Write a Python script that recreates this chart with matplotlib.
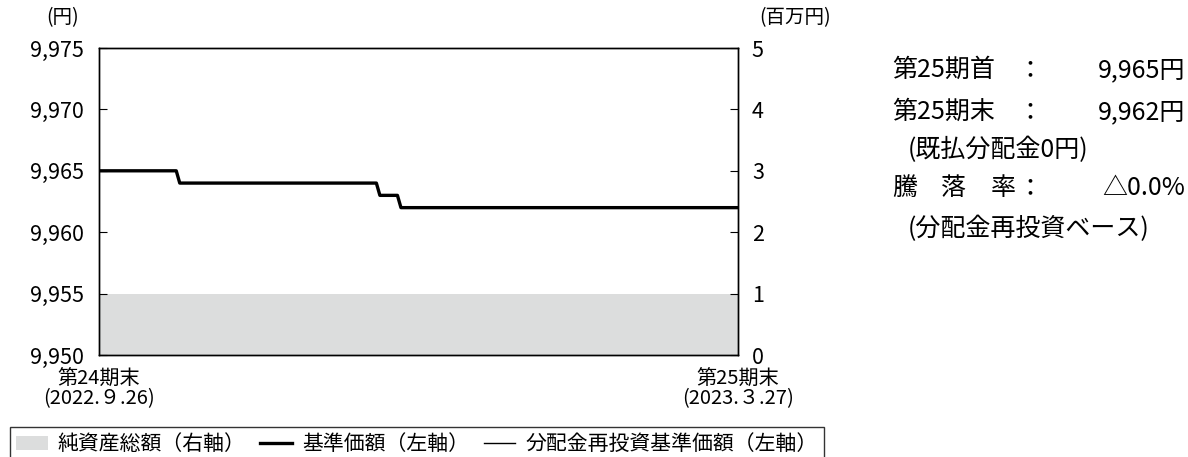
import matplotlib
matplotlib.use('Agg')
import matplotlib.pyplot as plt
from matplotlib.patches import Patch
from matplotlib.lines import Line2D
import pandas as pd

plt.rcParams['font.family'] = ['Noto Sans CJK JP', 'DejaVu Sans']

# 基準価額の推移 (変化点のみ)
dates = pd.to_datetime(['2022-09-26', '2022-10-18', '2022-10-19', '2022-12-14',
                        '2022-12-15', '2022-12-20', '2022-12-21', '2023-03-27'])
nav = [9965, 9965, 9964, 9964, 9963, 9963, 9962, 9962]
nav_reinvest = [9965, 9965, 9964, 9964, 9963, 9963, 9962, 9962]
net_assets = [1.0, 1.0, 1.0, 1.0, 1.0, 1.0, 1.0, 1.0]  # 百万円

left_ticks = [9950, 9955, 9960, 9965, 9970, 9975]
right_ticks = [0, 1, 2, 3, 4, 5]
x_labels = ['第24期末\n(2022.９.26)', '第25期末\n(2023.３.27)']

fig = plt.figure(figsize=(11.88, 4.57), dpi=100)
ax = fig.add_axes([99 / 1188, 1 - 355 / 457, (738 - 99) / 1188, (355 - 48) / 457])
ax2 = ax.twinx()

ax2.fill_between(dates, 0, net_assets, color='#dcdddd', lw=0)
ax2.set_ylim(0, 5)
ax2.set_yticks(right_ticks)
ax2.tick_params(axis='y', direction='in', length=6, labelsize=15.5, pad=10)

ax.set_zorder(ax2.get_zorder() + 1)
ax.patch.set_visible(False)
ax.plot(dates, nav_reinvest, color='black', lw=1.0)
ax.plot(dates, nav, color='black', lw=2.4)
ax.set_ylim(9950, 9975)
ax.set_yticks(left_ticks)
ax.set_yticklabels([f'{v:,}' for v in left_ticks])
ax.tick_params(axis='y', direction='in', length=6, labelsize=15.5, pad=11)
ax.set_xlim(dates[0], dates[-1])
ax.set_xticks([dates[0], dates[-1]])
ax.set_xticklabels(x_labels, fontsize=14.5, linespacing=0.9)
ax.tick_params(axis='x', length=0, pad=10)

for a in (ax, ax2):
    for s in a.spines.values():
        s.set_linewidth(1.0)

fig.text(63 / 1188, 1 - 18 / 457, '(円)', ha='center', va='center', fontsize=14)
fig.text(795 / 1188, 1 - 18 / 457, '(百万円)', ha='center', va='center', fontsize=14)

# 右側の注記
fs = 18
ys = [70, 112, 150, 188, 229]
labels_r = ['第25期首', '第25期末', None, None, None]
values_r = ['9,965円', '9,962円', None, '△0.0%', None]
notes_r = [None, None, '(既払分配金0円)', None, '(分配金再投資ベース)']
for i, y in enumerate(ys):
    yy = 1 - y / 457
    if labels_r[i]:
        fig.text(892 / 1188, yy, labels_r[i], ha='left', va='center', fontsize=fs)
    if values_r[i]:
        fig.text(1030 / 1188, yy, '：', ha='center', va='center', fontsize=fs)
        fig.text(1185 / 1188, yy, values_r[i], ha='right', va='center', fontsize=fs)
    if notes_r[i]:
        fig.text(908 / 1188, yy, notes_r[i], ha='left', va='center', fontsize=fs)
for ch, x in zip('騰落率', [892, 941, 991]):
    fig.text(x / 1188, 1 - ys[3] / 457, ch, ha='left', va='center', fontsize=fs)

handles = [Patch(facecolor='#dcdddd', edgecolor='none'),
           Line2D([], [], color='black', lw=2.4),
           Line2D([], [], color='black', lw=1.0)]
labels = ['純資産総額（右軸）', '基準価額（左軸）', '分配金再投資基準価額（左軸）']
leg = fig.legend(handles, labels, loc='upper left', bbox_to_anchor=(10 / 1188, 1 - 427 / 457),
                 ncol=3, fontsize=15, frameon=True, fancybox=False, edgecolor='black',
                 handlelength=1.5, handletextpad=0.5, columnspacing=0.7, borderpad=0.3,
                 borderaxespad=0)
leg.get_frame().set_linewidth(1.0)

fig.savefig('out.png', dpi=100)
